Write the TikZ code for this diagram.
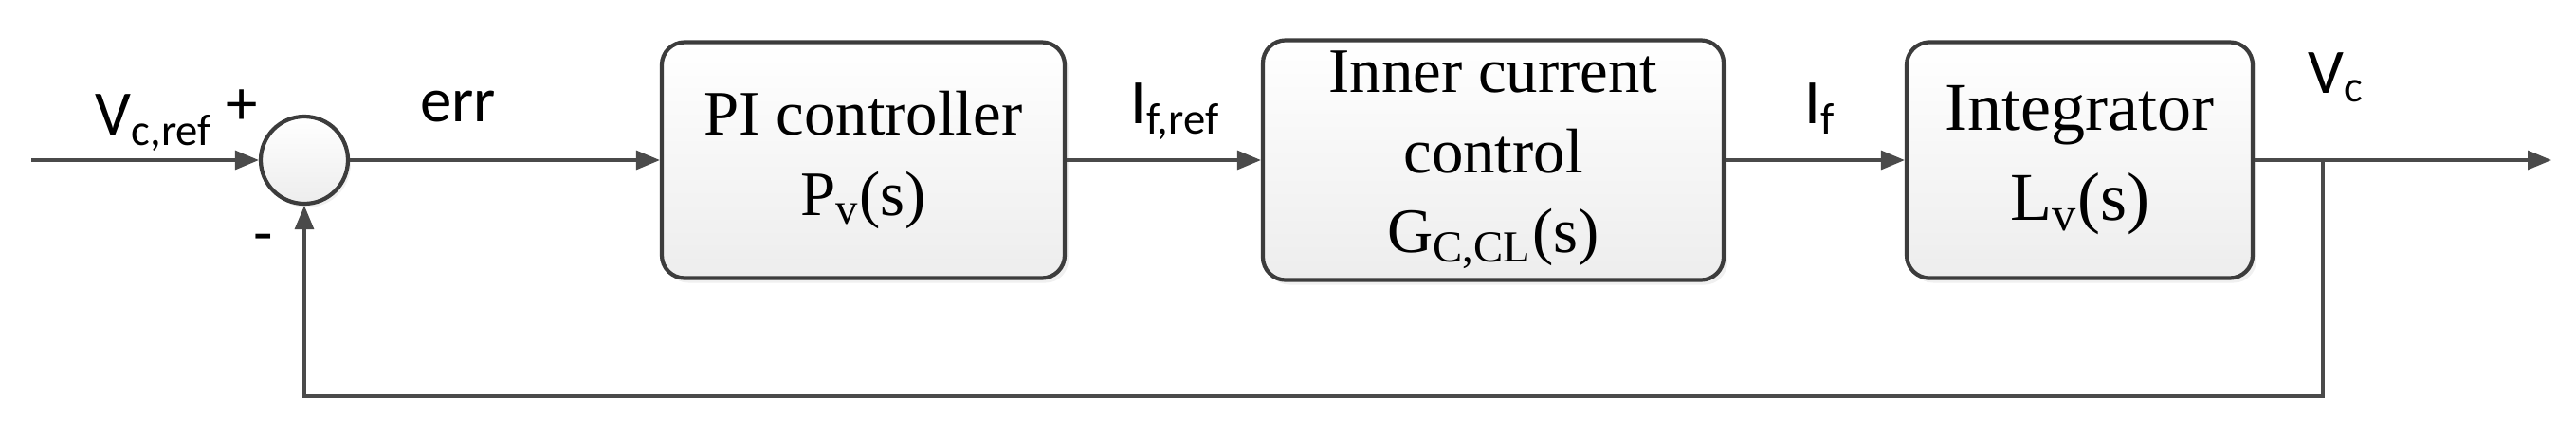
\documentclass[tikz,border=0pt]{standalone}
\usepackage{fontspec}
\setmainfont{Liberation Serif}
\newfontfamily\lblfont{Carlito}
\usetikzlibrary{arrows.meta,calc,positioning,shadows}
\definecolor{Ink}{HTML}{3C3C3C}
\definecolor{Wire}{HTML}{4A4A4A}
\definecolor{Shade}{HTML}{EDEDED}
\tikzset{
  block/.style={
    rounded corners=0.24cm, draw=Ink, line width=1.2pt,
    top color=white, bottom color=Shade, minimum height=2.49cm,
    align=center, font=\fontsize{19}{24}\selectfont,
    drop shadow={shadow xshift=0.04cm, shadow yshift=-0.05cm, opacity=0.12}
  },
  sumnode/.style={
    circle, draw=Ink, line width=1.2pt, top color=white, bottom color=Shade,
    minimum size=0.92cm, inner sep=0pt,
    drop shadow={shadow xshift=0.03cm, shadow yshift=-0.04cm, opacity=0.12}
  },
  signal/.style={-{Triangle[length=0.25cm, width=0.2cm]}, line width=0.9pt, draw=Wire},
  lbl/.style={font=\lblfont\fontsize{19}{22}\selectfont, inner sep=0pt}
}

\begin{document}
\begin{tikzpicture}[x=1cm,y=1cm]
    \useasboundingbox (0,0) rectangle (27.17,4.55);
    \coordinate (in) at (0.33,2.86);
    \node[sumnode] (sum) at (3.21,2.86) {};
    \node[block,minimum width=4.25cm] (pi) at (9.105,2.86)
      {PI controller\\P\textsubscript{v}(s)};
    \node[block,minimum width=4.86cm] (icc) at (15.75,2.86)
      {Inner current\\control\\G\textsubscript{C,CL}(s)};
    \node[block,minimum width=3.65cm,font=\fontsize{20.5}{27}\selectfont] (integ) at (21.935,2.86)
      {Integrator\\L\textsubscript{v}(s)};
    \coordinate (branch) at (24.50,2.86);
    \coordinate (out) at (26.91,2.86);
    \coordinate (fb) at (24.50,0.37);

    \draw[signal] (in) -- (sum.west);
    \draw[signal] (sum.east) -- (pi.west);
    \draw[signal] (pi.east) -- (icc.west);
    \draw[signal] (icc.east) -- (integ.west);
    \draw[signal] (integ.east) -- (out);
    \draw[signal] (branch) -- (fb) -| (sum.south);

    \node[lbl,anchor=base west] (vref) at (1.00,3.13) {V\textsubscript{c,ref}};
    \node[lbl] (plus) at (2.55,3.42) {+};
    \node[lbl] (minus) at (2.78,1.97) {-};
    \node[lbl,anchor=base] (err) at (4.83,3.27) {err};
    \node[lbl,anchor=base west] (ifref) at (11.92,3.25) {I\textsubscript{f,ref}};
    \node[lbl,anchor=base west] (if) at (19.03,3.25) {I\textsubscript{f}};
    \node[lbl,anchor=base west] (vc) at (24.34,3.57) {V\textsubscript{c}};
  \end{tikzpicture}
\end{document}
